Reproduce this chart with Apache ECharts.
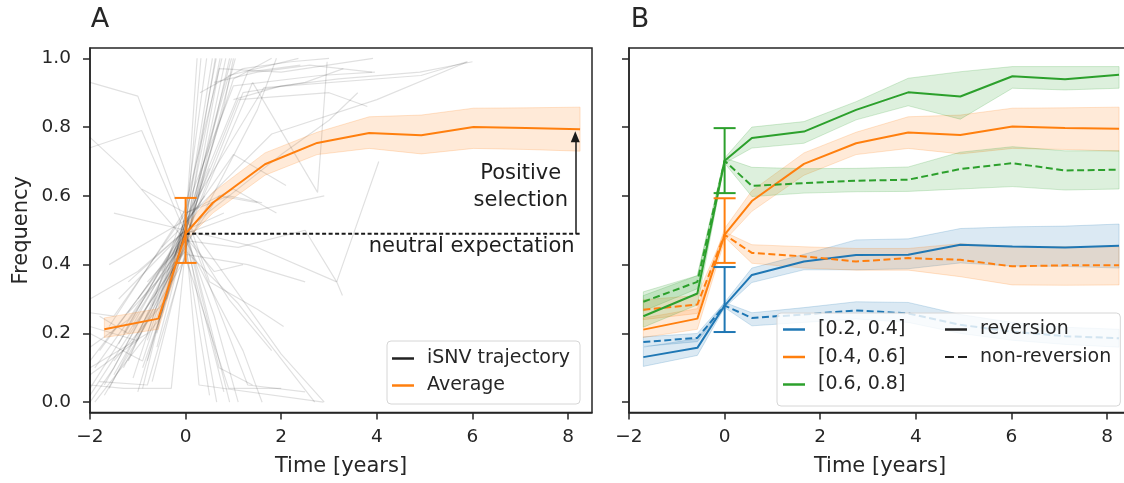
<!DOCTYPE html>
<html><head><meta charset="utf-8">
<script src="https://cdn.jsdelivr.net/npm/echarts@6/dist/echarts.min.js"></script>
<style>html,body{margin:0;padding:0;background:#fff}#c{width:1124px;height:483px}</style>
</head><body><div id="c"></div>
<script>
// ---------- DATA ----------
const X_TICKS = [-2, 0, 2, 4, 6, 8];
const Y_TICKS = [0, 0.2, 0.4, 0.6, 0.8, 1.0];
const TIMES = [-1.7, -0.57, 0, 0.57, 1.66, 2.75, 3.84, 4.93, 6.02, 7.12, 8.25];

// Panel A: average and its band
const avgA    = [0.212, 0.243, 0.49, 0.58, 0.692, 0.754, 0.783, 0.776, 0.800, 0.797, 0.794];
const avgA_lo = [0.188, 0.212, 0.47, 0.55, 0.660, 0.720, 0.738, 0.722, 0.738, 0.735, 0.730];
const avgA_hi = [0.245, 0.272, 0.51, 0.61, 0.725, 0.785, 0.830, 0.835, 0.855, 0.856, 0.858];
const errA = [0.405, 0.594];
const NEUTRAL = 0.49;
const NEUTRAL_END = 8.25;
const ARROW_X = 8.15, ARROW_TOP = 0.772;
const TXT_NEUTRAL = 'neutral expectation', TXT_NEUTRAL_POS = [8.146, 0.452];
const TXT_POS = 'Positive\nselection', TXT_POS_POS = [7.02, 0.625];

// Panel A: individual iSNV trajectories [time, frequency]
const trajectories = [
 [[-2.0,0.93],[-1.0,0.89],[0,0.51],[0.92,0.0]],
 [[-2.0,0.74],[-0.92,0.79],[0,0.49],[0.6,0.25],[1.1,0.0]],
 [[-2.0,0.77],[-1.3,0.68],[0,0.47],[0.8,0.03]],
 [[-0.92,0.62],[0,0.55],[1.0,0.62],[1.9,0.55]],
 [[-1.5,0.55],[0,0.5],[0.7,0.1],[1.4,0.05]],
 [[-1.7,0.05],[0,0.48],[0.62,1.0]],
 [[-1.2,0.12],[0,0.5],[0.72,1.0]],
 [[-0.8,0.18],[0,0.52],[0.56,1.0]],
 [[-1.5,0.08],[0,0.45],[0.84,1.0]],
 [[-0.6,0.2],[0,0.55],[0.44,1.0]],
 [[-1.9,0.1],[0,0.47],[0.8,0.86],[1.0,1.0]],
 [[-1.0,0.03],[0,0.5],[0.96,1.0]],
 [[-0.5,0.26],[0,0.53],[0.64,1.0]],
 [[-1.8,0.15],[0,0.49],[0.32,1.0]],
 [[-0.9,0.1],[0,0.46],[1.04,1.0]],
 [[-0.3,0.35],[0,0.51],[0.24,1.0]],
 [[-0.7,0.28],[0,0.57],[0.76,1.0]],
 [[-1.1,0.22],[0,0.44],[0.92,1.0]],
 [[-1.3,0.2],[0,0.51],[0.9,0.95],[2.36,1.0]],
 [[-0.7,0.06],[0,0.44],[0.7,0.97],[2.0,0.96],[3.92,1.0]],
 [[-1.6,0.22],[0,0.56],[1.0,0.92],[2.8,0.95],[3.96,0.96]],
 [[-2.0,0.04],[0,0.48],[1.2,0.9],[2.5,0.93],[3.3,0.97]],
 [[-0.4,0.3],[0,0.5],[1.0,0.94],[1.8,1.0]],
 [[-1.1,0.07],[0,0.54],[1.64,0.915],[4.92,0.95],[5.88,0.99]],
 [[-2.0,0.02],[0,0.45],[1.5,0.85],[1.9,1.0]],
 [[-0.8,0.12],[0,0.5],[1.1,0.88],[3.0,0.9],[3.8,0.86]],
 [[-1.4,0.17],[0,0.52],[1.3,0.96],[2.4,0.98]],
 [[-0.6,0.16],[0,0.48],[1.4,0.93],[2.76,0.61],[2.96,0.99]],
 [[-2.0,0.08],[-1.0,0.18],[0,0.46],[0.7,0.6],[1.5,0.58]],
 [[-1.9,0.0],[-0.5,0.25],[0,0.5],[0.5,0.68]],
 [[-2.0,0.16],[-1.2,0.24],[0,0.49],[1.2,0.55],[2.9,0.6]],
 [[-1.8,0.06],[-0.8,0.05],[0,0.43],[1.3,0.4],[2.5,0.35]],
 [[-2.0,0.22],[-1.04,0.18],[0,0.52],[1.0,0.72],[2.1,0.63]],
 [[-1.6,0.04],[0,0.47],[1.1,0.45],[2.5,0.5],[3.16,0.35],[4.04,0.7]],
 [[-1.0,0.3],[0,0.5],[1.5,0.45],[3.16,0.35],[3.28,0.31]],
 [[-2.0,0.26],[-1.5,0.25],[0,0.55],[0.9,0.6],[1.6,0.58]],
 [[-1.2,0.35],[0,0.5],[2.0,0.72],[3.0,0.82],[3.6,0.9]],
 [[-0.5,0.38],[0,0.53],[1.8,0.78],[4.0,0.88],[5.9,0.99]],
 [[-1.4,0.3],[0,0.5],[0.65,0.0]],
 [[-0.8,0.35],[0,0.47],[1.2,0.15],[1.6,0.0]],
 [[-1.6,0.4],[0,0.53],[2.0,0.14],[2.9,0.0]],
 [[-1.2,0.26],[0,0.44],[1.08,0.29],[2.7,0.0]],
 [[-0.5,0.45],[0,0.52],[1.3,0.05],[2.5,0.03]],
 [[-2.0,0.12],[0,0.48],[0.28,0.05],[2.88,0.0]],
 [[-1.7,0.02],[0,0.42],[0.9,0.04],[2.0,0.04]],
 [[-0.9,0.04],[0,0.55],[0.5,0.35],[1.5,0.27],[2.05,0.22]],
 [[-2.0,0.2],[-0.9,0.12],[0,0.5],[0.9,0.3],[1.8,0.15]],
 [[-1.3,0.1],[0,0.46],[0.5,0.02]],
 [[-2.0,0.05],[-1.3,0.04],[-0.3,0.04],[0,0.45]],
 [[-2.0,0.0],[-1.5,0.1],[0,0.49]],
 [[-1.8,0.25],[-1.2,0.2],[0,0.5]],
 [[-2.0,0.1],[-0.8,0.2],[0,0.52],[0.4,0.6]],
 [[-1.5,0.12],[-0.4,0.3],[0,0.48],[0.6,0.38],[1.2,0.4]],
 [[-2.0,0.3],[-1.0,0.38],[0,0.5],[0.8,0.55]],
 [[0.3,0.9],[1.2,0.97],[2.2,0.99],[3.0,1.0]],
 [[0.6,0.93],[1.5,0.96],[2.6,0.98],[3.9,0.96]],
 [[1.0,0.88],[2.0,0.92],[3.2,0.94],[4.9,0.96],[6.0,0.99]]
];

// Panel B
const blueRev      = [0.131, 0.158, 0.281, 0.370, 0.409, 0.428, 0.429, 0.458, 0.453, 0.450, 0.455];
const blueRev_lo   = [0.104, 0.136, 0.275, 0.348, 0.385, 0.385, 0.388, 0.405, 0.396, 0.395, 0.390];
const blueRev_hi   = [0.160, 0.185, 0.290, 0.390, 0.430, 0.472, 0.475, 0.505, 0.510, 0.512, 0.518];
const blueNon      = [0.175, 0.187, 0.281, 0.245, 0.255, 0.267, 0.258, 0.225, 0.205, 0.192, 0.186];
const blueNon_lo   = [0.162, 0.176, 0.275, 0.222, 0.232, 0.242, 0.232, 0.200, 0.180, 0.168, 0.160];
const blueNon_hi   = [0.190, 0.200, 0.290, 0.260, 0.275, 0.292, 0.290, 0.255, 0.232, 0.218, 0.212];
const orangeRev    = [0.211, 0.243, 0.487, 0.585, 0.693, 0.753, 0.784, 0.777, 0.802, 0.797, 0.795];
const orangeRev_lo = [0.188, 0.212, 0.470, 0.555, 0.660, 0.720, 0.738, 0.722, 0.738, 0.735, 0.730];
const orangeRev_hi = [0.245, 0.272, 0.505, 0.615, 0.725, 0.785, 0.830, 0.835, 0.855, 0.856, 0.858];
const orangeNon    = [0.269, 0.284, 0.487, 0.434, 0.424, 0.409, 0.419, 0.414, 0.395, 0.398, 0.398];
const orangeNon_lo = [0.240, 0.258, 0.480, 0.404, 0.390, 0.384, 0.384, 0.365, 0.341, 0.340, 0.341];
const orangeNon_hi = [0.298, 0.310, 0.495, 0.458, 0.452, 0.447, 0.447, 0.461, 0.452, 0.452, 0.452];
const greenRev     = [0.250, 0.316, 0.702, 0.768, 0.787, 0.850, 0.901, 0.889, 0.948, 0.939, 0.952];
const greenRev_lo  = [0.218, 0.283, 0.695, 0.739, 0.753, 0.821, 0.862, 0.823, 0.913, 0.908, 0.913];
const greenRev_hi  = [0.310, 0.368, 0.710, 0.800, 0.816, 0.874, 0.942, 0.961, 0.976, 0.976, 0.976];
const greenNon     = [0.292, 0.350, 0.702, 0.629, 0.637, 0.644, 0.647, 0.678, 0.695, 0.674, 0.676];
const greenNon_lo  = [0.265, 0.330, 0.695, 0.598, 0.608, 0.612, 0.613, 0.620, 0.627, 0.617, 0.620];
const greenNon_hi  = [0.321, 0.368, 0.710, 0.683, 0.679, 0.680, 0.684, 0.727, 0.743, 0.731, 0.731];
const errBlue = [0.204, 0.393], errOrange = [0.405, 0.593], errGreen = [0.608, 0.797];
const GROUPS = ['[0.2, 0.4]', '[0.4, 0.6]', '[0.6, 0.8]'];
const KINDS = ['reversion', 'non-reversion'];

// ---------- STYLE ----------
const FONT = 'DejaVu Sans';
const INK = '#262626';
const BLUE = '#1f77b4', ORANGE = '#ff7f0e', GREEN = '#2ca02c';
const rgba = (hex, a) => {
  const n = parseInt(hex.slice(1), 16);
  return `rgba(${(n>>16)&255},${(n>>8)&255},${n&255},${a})`;
};
const DASH = [7, 3.5];
const ICON_SOLID = 'rect';
const ICON_DASH = 'path://M0,0H9V2H0Z M13,0H22V2H13Z';

function bandSeries(gi, xs, lo, hi, color, z) {
  return {
    type: 'custom', xAxisIndex: gi, yAxisIndex: gi, z: z, silent: true,
    data: xs.map((t, i) => [t, lo[i], hi[i]]),
    encode: {x: 0, y: [1, 2]},
    renderItem: function (params, api) {
      if (params.dataIndex !== 0) return;
      const pts = [];
      for (let i = 0; i < xs.length; i++) pts.push(api.coord([xs[i], hi[i]]));
      for (let i = xs.length - 1; i >= 0; i--) pts.push(api.coord([xs[i], lo[i]]));
      return {type: 'polygon', shape: {points: pts},
        style: {fill: rgba(color, 0.16), stroke: rgba(color, 0.2), lineWidth: 1}};
    }
  };
}
function errSeries(gi, t, e, color, z) {
  return {
    type: 'custom', xAxisIndex: gi, yAxisIndex: gi, z: z, silent: true,
    data: [[t, e[0], e[1]]], encode: {x: 0, y: [1, 2]},
    renderItem: function (params, api) {
      const a = api.coord([api.value(0), api.value(1)]);
      const b = api.coord([api.value(0), api.value(2)]);
      const w = 11;
      const st = {stroke: color, lineWidth: 2};
      return {type: 'group', children: [
        {type: 'line', shape: {x1: a[0], y1: a[1], x2: b[0], y2: b[1]}, style: st},
        {type: 'line', shape: {x1: a[0]-w, y1: a[1], x2: a[0]+w, y2: a[1]}, style: st},
        {type: 'line', shape: {x1: b[0]-w, y1: b[1], x2: b[0]+w, y2: b[1]}, style: st}
      ]};
    }
  };
}
function lineSeries(gi, name, xs, ys, color, dashed, z) {
  return {
    type: 'line', name: name, xAxisIndex: gi, yAxisIndex: gi, z: z, silent: true,
    data: xs.map((t, i) => [t, ys[i]]), symbol: 'none', color: color,
    lineStyle: {color: color, width: 2, type: dashed ? DASH : 'solid'}
  };
}

const axisTxt = {fontFamily: FONT, fontSize: 18.5, color: INK};
function xAxisCfg(gi) {
  return {
    type: 'value', gridIndex: gi, min: -2, max: 8.5,
    name: 'Time [years]', nameLocation: 'middle', nameGap: 44,
    nameTextStyle: {fontFamily: FONT, fontSize: 21, color: INK},
    axisLine: {show: true, onZero: false, lineStyle: {color: INK, width: 1.5}},
    axisTick: {show: true, customValues: X_TICKS, length: 7, lineStyle: {color: INK, width: 1.5}},
    axisLabel: Object.assign({customValues: X_TICKS, margin: 15,
      formatter: v => String(v).replace('-', '\u2212')}, axisTxt),
    splitLine: {show: false}
  };
}
function yAxisCfg(gi, labels) {
  const c = {
    type: 'value', gridIndex: gi, min: -0.03, max: 1.03,
    axisLine: {show: true, onZero: false, lineStyle: {color: INK, width: 1.5}},
    axisTick: {show: true, customValues: Y_TICKS, length: 7, lineStyle: {color: INK, width: 1.5}},
    axisLabel: Object.assign({show: labels, customValues: Y_TICKS, margin: 19,
      formatter: v => v.toFixed(1)}, axisTxt),
    splitLine: {show: false}
  };
  if (labels) {
    c.name = 'Frequency'; c.nameLocation = 'middle'; c.nameGap = 58;
    c.nameTextStyle = {fontFamily: FONT, fontSize: 21, color: INK};
  }
  return c;
}

const series = [];
// Panel A
trajectories.forEach(d => series.push({
  type: 'line', xAxisIndex: 0, yAxisIndex: 0, data: d, symbol: 'none', silent: true, z: 1,
  lineStyle: {color: '#000', opacity: 0.12, width: 1.2}
}));
series.push(bandSeries(0, TIMES, avgA_lo, avgA_hi, ORANGE, 2));
series.push({
  type: 'line', xAxisIndex: 0, yAxisIndex: 0, z: 3, silent: true, symbol: 'none',
  data: [[0, NEUTRAL], [NEUTRAL_END, NEUTRAL]],
  lineStyle: {color: '#1a1a1a', width: 2, type: [4, 2.5]},
  markLine: {
    silent: true, symbol: ['none', 'triangle'], symbolSize: [9, 11],
    lineStyle: {color: '#1a1a1a', type: 'solid', width: 1.5}, label: {show: false},
    data: [[{coord: [ARROW_X, NEUTRAL]}, {coord: [ARROW_X, ARROW_TOP]}]]
  }
});
series.push(lineSeries(0, 'Average', TIMES, avgA, ORANGE, false, 4));
series.push(errSeries(0, 0, errA, ORANGE, 5));
series.push({type: 'line', name: 'iSNV trajectory', xAxisIndex: 0, yAxisIndex: 0, data: [],
  symbol: 'none', color: '#222', lineStyle: {color: '#222', width: 2}});
series.push({
  type: 'scatter', xAxisIndex: 0, yAxisIndex: 0, symbolSize: 1, silent: true, z: 6,
  itemStyle: {color: 'rgba(0,0,0,0)'},
  label: {show: true, position: [0, 0], verticalAlign: 'middle',
    fontFamily: FONT, fontSize: 21, color: '#1e1e1e', opacity: 1},
  data: [
    {value: TXT_NEUTRAL_POS, label: {formatter: TXT_NEUTRAL, align: 'right'}},
    {value: TXT_POS_POS, label: {formatter: TXT_POS, align: 'center', lineHeight: 27}}
  ]
});
// Panel B
const bData = [
  [GROUPS[0], BLUE, blueRev, blueRev_lo, blueRev_hi, blueNon, blueNon_lo, blueNon_hi, errBlue],
  [GROUPS[1], ORANGE, orangeRev, orangeRev_lo, orangeRev_hi, orangeNon, orangeNon_lo, orangeNon_hi, errOrange],
  [GROUPS[2], GREEN, greenRev, greenRev_lo, greenRev_hi, greenNon, greenNon_lo, greenNon_hi, errGreen]
];
bData.forEach(g => {
  series.push(bandSeries(1, TIMES, g[3], g[4], g[1], 2));
  series.push(bandSeries(1, TIMES, g[6], g[7], g[1], 2));
});
bData.forEach(g => {
  series.push(lineSeries(1, g[0], TIMES, g[2], g[1], false, 3));
  series.push(lineSeries(1, g[0] + ' ' + KINDS[1], TIMES, g[5], g[1], true, 3));
});
bData.forEach(g => series.push(errSeries(1, 0, g[8], g[1], 4)));
series.push({type: 'line', name: KINDS[0], xAxisIndex: 1, yAxisIndex: 1, data: [], symbol: 'none',
  color: '#222', lineStyle: {color: '#222', width: 2}});
series.push({type: 'line', name: KINDS[1], xAxisIndex: 1, yAxisIndex: 1, data: [], symbol: 'none',
  color: '#222', lineStyle: {color: '#222', width: 2, type: DASH}});

const legTxt = {fontFamily: FONT, fontSize: 19, color: INK, padding: [0, 0, 0, 8]};
const legBox = {backgroundColor: 'rgba(255,255,255,0.8)', borderColor: '#d6d6d6', borderWidth: 1, borderRadius: 4};
const chart = echarts.init(document.getElementById('c'), null, {renderer: 'canvas'});
chart.setOption({
  animation: false,
  backgroundColor: '#fff',
  grid: [
    {left: 90, top: 48, width: 502, height: 364.5, show: true, borderColor: INK, borderWidth: 1.5, outerBoundsMode: 'none', containLabel: false},
    {left: 629, top: 48, width: 502, height: 364.5, show: true, borderColor: INK, borderWidth: 1.5, outerBoundsMode: 'none', containLabel: false}
  ],
  xAxis: [xAxisCfg(0), xAxisCfg(1)],
  yAxis: [yAxisCfg(0, true), yAxisCfg(1, false)],
  legend: [
    Object.assign({data: [{name: 'iSNV trajectory', icon: ICON_SOLID}, {name: 'Average', icon: ICON_SOLID}],
     left: 387, top: 341, orient: 'vertical',
     itemWidth: 22, itemHeight: 2.5, itemGap: 8, padding: [8, 10, 9, 5], selectedMode: false,
     textStyle: legTxt}, legBox),
    Object.assign({data: GROUPS.map(n => ({name: n, icon: ICON_SOLID})), left: 777, top: 313, orient: 'vertical',
     itemWidth: 22, itemHeight: 2.5, itemGap: 8.5, padding: [7, 215, 12, 6], selectedMode: false,
     textStyle: legTxt}, legBox),
    {data: [{name: KINDS[0], icon: ICON_SOLID}, {name: KINDS[1], icon: ICON_DASH}], left: 939, top: 313, orient: 'vertical',
     itemWidth: 22, itemHeight: 2.5, itemGap: 8.5, padding: [7, 5, 9, 6], selectedMode: false,
     itemStyle: {color: '#222', opacity: 1},
     textStyle: legTxt}
  ],
  graphic: [
    {type: 'text', x: 100, y: 20, style: {text: 'A', font: '27px "DejaVu Sans"', fill: INK, align: 'center', verticalAlign: 'middle'}},
    {type: 'text', x: 640, y: 20, style: {text: 'B', font: '27px "DejaVu Sans"', fill: INK, align: 'center', verticalAlign: 'middle'}}
  ],
  series: series
});
</script>
</body></html>
